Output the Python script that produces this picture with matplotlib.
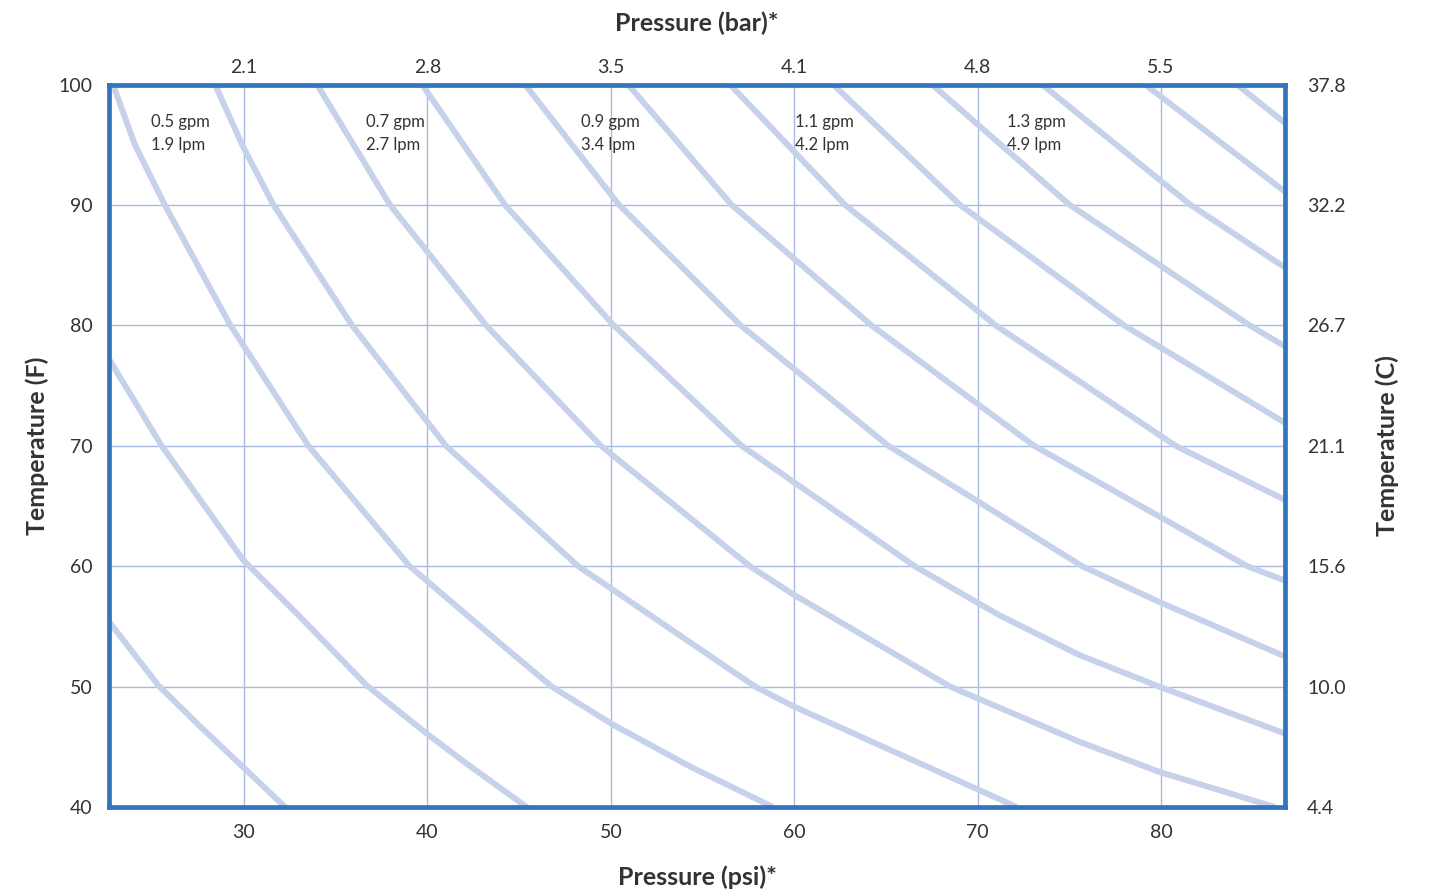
import matplotlib.pyplot as plt

plt.rcParams['font.family'] = ['Lato', 'DejaVu Sans']

# Curvas de caudal constante: presion (psi) y temperatura (F)
curve_psi = [
    [22.64, 25.33, 27.60, 29.96, 32.24],
    [22.64, 25.51, 29.96, 33.05, 36.69, 39.96, 42.14, 45.41],
    [22.86, 24.05, 25.68, 29.26, 33.51, 39.03, 43.96, 46.78, 50.05, 54.40, 58.84],
    [28.42, 29.96, 31.61, 35.89, 41.01, 48.22, 57.87, 59.90, 72.13],
    [33.98, 37.96, 43.20, 49.46, 57.58, 59.90, 68.50, 75.58, 79.94, 86.20],
    [39.71, 44.23, 50.16, 57.13, 66.57, 69.95, 71.22, 75.58, 79.90, 86.76],
    [45.32, 50.45, 57.08, 65.13, 75.70, 79.94, 86.76],
    [50.94, 56.59, 64.21, 73.08, 84.70, 86.76],
    [56.50, 62.77, 70.98, 80.79, 86.76],
    [62.12, 69.04, 77.98, 86.76],
    [67.51, 75.02, 84.83, 86.76],
    [73.51, 81.61, 86.76],
    [79.13, 86.76],
    [84.14, 86.76],
]
curve_temp = [
    [55.4, 50.1, 46.7, 43.3, 40],
    [77.2, 70, 60.5, 55.8, 50.1, 46.1, 43.6, 40],
    [100, 95.0, 90, 80, 70, 60, 53.6, 50, 46.9, 43.3, 40],
    [100, 94.8, 90, 80, 70, 60, 50, 48.4, 40],
    [100, 90, 80, 70, 60, 57.7, 50, 45.4, 42.9, 40],
    [100, 90, 80, 70, 60, 57.0, 55.9, 52.6, 50, 46.1],
    [100, 90, 80, 70, 60, 57.0, 52.5],
    [100, 90, 80, 70, 60, 58.8],
    [100, 90, 80, 70, 65.5],
    [100, 90, 80, 71.9],
    [100, 90, 80, 78.25],
    [100, 90, 84.8],
    [100, 91.1],
    [100, 96.8],
]

# Etiquetas de caudal
flow_gpm = ["0.5 gpm", "0.7 gpm", "0.9 gpm", "1.1 gpm", "1.3 gpm"]
flow_lpm = ["1.9 lpm", "2.7 lpm", "3.4 lpm", "4.2 lpm", "4.9 lpm"]
flow_label_psi = [24.93, 36.65, 48.37, 60.04, 71.60]

# Ejes
psi_ticks = [30, 40, 50, 60, 70, 80]
bar_labels = ["2.1", "2.8", "3.5", "4.1", "4.8", "5.5"]
temp_ticks = [40, 50, 60, 70, 80, 90, 100]
celsius_labels = ["4.4", "10.0", "15.6", "21.1", "26.7", "32.2", "37.8"]

line_color = '#c6d1ea'
grid_color = '#aab9e0'
frame_color = '#3474bc'
text_color = '#333333'

fig = plt.figure(figsize=(14.33, 8.94), dpi=100)
ax = fig.add_axes([109 / 1433, 1 - 807 / 894, (1285 - 109) / 1433, (807 - 84.5) / 894])

for xs, ys in zip(curve_psi, curve_temp):
    ax.plot(xs, ys, color=line_color, lw=4.3, solid_capstyle='butt',
            solid_joinstyle='round', zorder=2)

ax.set_xlim(22.64, 86.76)
ax.set_ylim(40, 100)
ax.set_xticks(psi_ticks)
ax.set_yticks(temp_ticks)
ax.grid(True, color=grid_color, lw=1.0, zorder=1)
ax.set_axisbelow(True)
for s in ax.spines.values():
    s.set_color(frame_color)
    s.set_linewidth(3.4)
    s.set_zorder(5)
ax.tick_params(length=0, labelsize=14, colors=text_color)
ax.tick_params(axis='x', pad=12)
ax.tick_params(axis='y', pad=12)
ax.set_xlabel('Pressure (psi)*', fontsize=18, fontweight='bold', color=text_color, labelpad=18)
ax.set_ylabel('Temperature (F)', fontsize=18, fontweight='bold', color=text_color, labelpad=7)

# Eje superior (bar)
axt = ax.twiny()
axt.set_xlim(ax.get_xlim())
axt.set_xticks(psi_ticks)
axt.set_xticklabels(bar_labels)
axt.tick_params(length=0, labelsize=14, colors=text_color, pad=6)
axt.set_xlabel('Pressure (bar)*', fontsize=18, fontweight='bold', color=text_color, labelpad=20)

# Eje derecho (C)
axr = ax.twinx()
axr.set_ylim(ax.get_ylim())
axr.set_yticks(temp_ticks)
axr.set_yticklabels(celsius_labels)
axr.tick_params(length=0, labelsize=14, colors=text_color, pad=16)
axr.set_ylabel('Temperature (C)', fontsize=18, fontweight='bold', color=text_color, labelpad=21)
for a in (axt, axr):
    for s in a.spines.values():
        s.set_visible(False)

for x, g, l in zip(flow_label_psi, flow_gpm, flow_lpm):
    ax.text(x, 96.9, g, fontsize=12, color=text_color, va='center', ha='left', zorder=4)
    ax.text(x, 95.0, l, fontsize=12, color=text_color, va='center', ha='left', zorder=4)

fig.savefig('out.png', dpi=100)
